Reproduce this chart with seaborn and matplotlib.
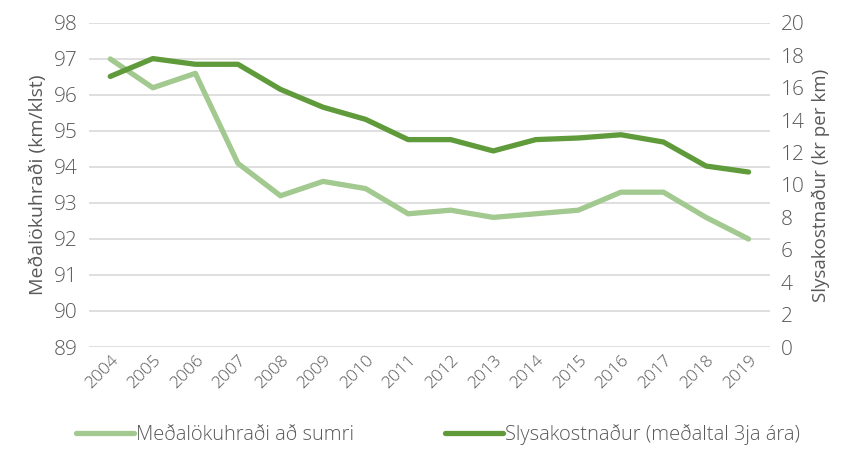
import matplotlib
matplotlib.use("Agg")
import matplotlib.pyplot as plt
import seaborn as sns
import pandas as pd

years = [str(y) for y in range(2004, 2020)]
speed = [97.0, 96.2, 96.6, 94.1, 93.2, 93.6, 93.4, 92.7, 92.8, 92.6, 92.7, 92.8, 93.3, 93.3, 92.6, 92.0]
cost = [16.7, 17.8, 17.45, 17.45, 15.9, 14.8, 14.05, 12.8, 12.8, 12.1, 12.8, 12.9, 13.1, 12.65, 11.17, 10.8]

speed_label = "Meðalökuhraði að sumri"
cost_label = "Slysakostnaður (meðaltal 3ja ára)"

sns.set_style("white")
plt.rcParams['font.family'] = ['Open Sans', 'DejaVu Sans']
plt.rcParams['font.weight'] = 'light'
txt = "#595959"

df = pd.DataFrame({"year": years, "speed": speed, "cost": cost})
df["i"] = range(len(years))

fig = plt.figure(figsize=(8.5, 4.59), dpi=100)
ax = fig.add_axes([0.1047, 0.244, 0.801, 0.706])
ax2 = ax.twinx()

light = "#A2C98F"
dark = "#5F9A3B"

sns.lineplot(data=df, x="i", y="speed", ax=ax, color=light, linewidth=3.8, label=speed_label, legend=False)
sns.lineplot(data=df, x="i", y="cost", ax=ax2, color=dark, linewidth=3.8, label=cost_label, legend=False)
for l in ax.lines + ax2.lines:
    l.set_solid_capstyle("round")

ax.set_xlim(-0.5, len(years) - 0.5)
ax.set_ylim(89, 98)
ax.set_yticks(range(89, 99))
ax2.set_ylim(0, 20)
ax2.set_yticks(range(0, 21, 2))
ax.set_xticks(df["i"])
ax.set_xticklabels(years, rotation=45, ha="right", rotation_mode="anchor")

ax.grid(axis="y", color="#D9D9D9", linewidth=1.2)
ax.set_axisbelow(True)
for a in (ax, ax2):
    for s in a.spines.values():
        s.set_visible(False)
    a.tick_params(length=0, colors=txt)

ax.tick_params(axis="y", labelsize=15, pad=8)
ax2.tick_params(axis="y", labelsize=15, pad=8)
ax.tick_params(axis="x", labelsize=12.5, pad=4)

ax.set_xlabel("")
ax.set_ylabel("Meðalökuhraði (km/klst)", fontsize=14, color=txt, labelpad=5)
ax2.set_ylabel("Slysakostnaður (kr per km)", fontsize=13.5, color=txt, labelpad=5)

h1, l1 = ax.get_legend_handles_labels()
h2, l2 = ax2.get_legend_handles_labels()
fig.legend(h1 + h2, l1 + l2, loc="lower center", bbox_to_anchor=(0.515, -0.01), ncol=2,
           frameon=False, fontsize=14.5, labelcolor=txt, handlelength=2.9,
           handletextpad=0.1, columnspacing=4.5)

fig.savefig("out.png", dpi=100)
